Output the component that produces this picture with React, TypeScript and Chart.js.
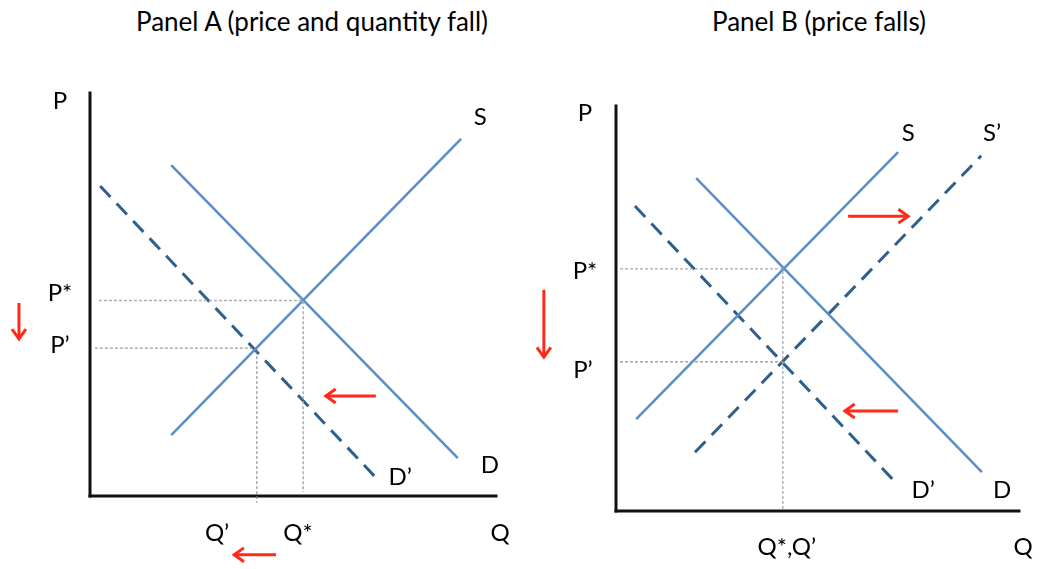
import React, { useEffect, useRef } from "react";
import { Chart, registerables } from "chart.js";
Chart.register(...registerables);

// ---------- Panel A data (Q on x, P on y, abstract units 0..10) ----------
const axisXA = [{ x: 0, y: 0 }, { x: 10, y: 0 }];
const axisYA = [{ x: 0, y: 0 }, { x: 0, y: 10 }];
const supplyA = [{ x: 2.0, y: 1.51 }, { x: 9.14, y: 8.86 }];
const demandA = [{ x: 2.0, y: 8.21 }, { x: 9.06, y: 0.94 }];
const demandNewA = [{ x: 0.25, y: 7.69 }, { x: 7.0, y: 0.5 }];
const pStarLineA = [{ x: 0.22, y: 4.85 }, { x: 5.25, y: 4.85 }, { x: 5.25, y: 0.1 }];
const pPrimeLineA = [{ x: 0.12, y: 3.67 }, { x: 4.11, y: 3.67 }, { x: 4.11, y: -0.17 }];
const arrowsA = [
  { x1: -1.75, y1: 4.79, x2: -1.75, y2: 3.9 },
  { x1: 7.04, y1: 2.48, x2: 5.81, y2: 2.48 },
  { x1: 4.58, y1: -1.46, x2: 3.55, y2: -1.46 },
];
const labelsA = [
  { t: "P", x: -0.74, y: 9.8 },
  { t: "S", x: 9.61, y: 9.4 },
  { t: "P*", x: -0.74, y: 5.04 },
  { t: "P\u2019", x: -0.74, y: 3.75 },
  { t: "D", x: 9.85, y: 0.77 },
  { t: "D\u2019", x: 7.64, y: 0.47 },
  { t: "Q\u2019", x: 3.13, y: -0.92 },
  { t: "Q*", x: 5.12, y: -0.92 },
  { t: "Q", x: 10.1, y: -0.92 },
];

// ---------- Panel B data ----------
const axisXB = [{ x: 0, y: 0 }, { x: 10, y: 0 }];
const axisYB = [{ x: 0, y: 0 }, { x: 0, y: 10 }];
const supplyB = [{ x: 0.5, y: 2.27 }, { x: 7.0, y: 8.86 }];
const supplyNewB = [{ x: 1.96, y: 1.45 }, { x: 9.06, y: 8.77 }];
const demandB = [{ x: 1.99, y: 8.22 }, { x: 9.08, y: 0.96 }];
const demandNewB = [{ x: 0.47, y: 7.53 }, { x: 7.0, y: 0.64 }];
const pStarLineB = [{ x: 0.1, y: 5.98 }, { x: 4.14, y: 5.98 }, { x: 4.14, y: 0 }];
const pPrimeLineB = [{ x: 0.1, y: 3.68 }, { x: 4.14, y: 3.68 }];
const arrowsB = [
  { x1: -1.79, y1: 5.46, x2: -1.79, y2: 3.8 },
  { x1: 5.76, y1: 7.28, x2: 7.25, y2: 7.28 },
  { x1: 7.0, y1: 2.47, x2: 5.68, y2: 2.47 },
];
const labelsB = [
  { t: "P", x: -0.77, y: 9.83 },
  { t: "S", x: 7.25, y: 9.33 },
  { t: "S\u2019", x: 9.33, y: 9.33 },
  { t: "P*", x: -0.77, y: 5.93 },
  { t: "P\u2019", x: -0.82, y: 3.48 },
  { t: "D\u2019", x: 7.62, y: 0.52 },
  { t: "D", x: 9.58, y: 0.52 },
  { t: "Q*,Q\u2019", x: 4.24, y: -0.89 },
  { t: "Q", x: 10.1, y: -0.89 },
];

const SOLID = "#5b8fc8";
const DASHED = "#2f5f8c";
const RED = "#ff2a1a";
const FONT = "Lato, 'Noto Sans', sans-serif";

type Pt = { x: number; y: number };
type Arrow = { x1: number; y1: number; x2: number; y2: number };
type Label = { t: string; x: number; y: number };

function line(data: Pt[], color: string, width: number, dash: number[] = [], cap: CanvasLineCap = "butt") {
  return {
    data,
    borderColor: color,
    borderWidth: width,
    borderDash: dash,
    borderCapStyle: cap,
    pointRadius: 0,
    showLine: true,
    fill: false,
    tension: 0,
    clip: false as any,
  };
}

function overlayPlugin(arrows: Arrow[], labels: Label[]) {
  return {
    id: "overlay",
    afterDatasetsDraw(chart: any) {
      const { ctx } = chart;
      const sx = chart.scales.x;
      const sy = chart.scales.y;
      ctx.save();
      ctx.strokeStyle = RED;
      ctx.lineWidth = 3;
      ctx.lineCap = "butt";
      for (const a of arrows) {
        const x1 = sx.getPixelForValue(a.x1);
        const y1 = sy.getPixelForValue(a.y1);
        const x2 = sx.getPixelForValue(a.x2);
        const y2 = sy.getPixelForValue(a.y2);
        const ang = Math.atan2(y2 - y1, x2 - x1);
        ctx.beginPath();
        ctx.moveTo(x1, y1);
        ctx.lineTo(x2 - 1.5 * Math.cos(ang), y2 - 1.5 * Math.sin(ang));
        ctx.stroke();
        const h = 12;
        const s = 0.62;
        ctx.beginPath();
        ctx.moveTo(x2 - h * Math.cos(ang - s), y2 - h * Math.sin(ang - s));
        ctx.lineTo(x2, y2);
        ctx.lineTo(x2 - h * Math.cos(ang + s), y2 - h * Math.sin(ang + s));
        ctx.lineJoin = "miter";
        ctx.stroke();
      }
      ctx.fillStyle = "#000";
      ctx.font = `24px ${FONT}`;
      ctx.textAlign = "center";
      ctx.textBaseline = "middle";
      for (const l of labels) {
        ctx.fillText(l.t, sx.getPixelForValue(l.x), sy.getPixelForValue(l.y));
      }
      ctx.restore();
    },
  };
}

function Panel(props: {
  left: number;
  width: number;
  padding: { left: number; top: number; right: number; bottom: number };
  datasets: any[];
  arrows: Arrow[];
  labels: Label[];
}) {
  const ref = useRef<HTMLCanvasElement>(null);
  useEffect(() => {
    if (!ref.current) return;
    const chart = new Chart(ref.current, {
      type: "scatter",
      data: { datasets: props.datasets },
      options: {
        animation: false,
        responsive: false,
        events: [],
        layout: { padding: props.padding, autoPadding: false } as any,
        scales: {
          x: { type: "linear", min: 0, max: 10, display: false },
          y: { type: "linear", min: 0, max: 10, display: false },
        },
        plugins: { legend: { display: false }, tooltip: { enabled: false }, title: { display: false } },
      },
      plugins: [overlayPlugin(props.arrows, props.labels)],
    });
    return () => chart.destroy();
  }, []);
  return (
    <canvas
      ref={ref}
      width={props.width}
      height={569}
      style={{ position: "absolute", left: props.left, top: 0, width: props.width, height: 569 }}
    />
  );
}

export default function App() {
  const datasetsA = [
    line(pStarLineA, "#b0b0b0", 1.6, [3, 2]),
    line(pPrimeLineA, "#808080", 1, [3, 2]),
    line(supplyA, SOLID, 2.6),
    line(demandA, SOLID, 2.6),
    line(demandNewA, DASHED, 3, [15, 9]),
    line(axisXA, "#111", 3, [], "square"),
    line(axisYA, "#111", 3, [], "square"),
  ];
  const datasetsB = [
    line(pStarLineB, "#a8a8a8", 1.3, [3, 2]),
    line(pPrimeLineB, "#909090", 1.2, [3, 2]),
    line(supplyB, SOLID, 2.6),
    line(demandB, SOLID, 2.6),
    line(demandNewB, DASHED, 3, [15, 9]),
    line(supplyNewB, DASHED, 3, [15, 9]),
    line(axisXB, "#111", 3, [], "square"),
    line(axisYB, "#111", 3, [], "square"),
  ];
  const titleStyle: React.CSSProperties = {
    position: "absolute",
    top: 5,
    fontFamily: FONT,
    fontSize: 26,
    lineHeight: "32px",
    color: "#000",
    whiteSpace: "nowrap",
    transform: "translateX(-50%)",
  };
  return (
    <div style={{ position: "fixed", left: 0, top: 0, width: 1041, height: 569, background: "#fff", overflow: "hidden" }}>
      <div style={{ ...titleStyle, left: 312 }}>Panel A (price and quantity fall)</div>
      <div style={{ ...titleStyle, left: 819 }}>Panel B (price falls)</div>
      <Panel
        left={0}
        width={520}
        padding={{ left: 90, top: 93, right: 24, bottom: 73 }}
        datasets={datasetsA}
        arrows={arrowsA}
        labels={labelsA}
      />
      <Panel
        left={520}
        width={521}
        padding={{ left: 96, top: 106, right: 22, bottom: 58 }}
        datasets={datasetsB}
        arrows={arrowsB}
        labels={labelsB}
      />
    </div>
  );
}
